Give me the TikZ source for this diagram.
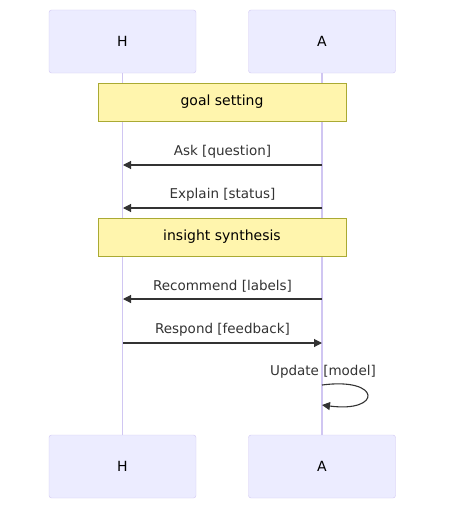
\documentclass[tikz,border=0pt]{standalone}
\usepackage{fontspec}
\setmainfont{DejaVu Sans}
\usepackage{tikz}
\usetikzlibrary{arrows.meta}

\definecolor{actfill}{HTML}{ECECFF}
\definecolor{actline}{HTML}{D0C6F2}
\definecolor{notefill}{HTML}{FFF5AD}
\definecolor{noteline}{HTML}{AAAA33}
\definecolor{msgline}{HTML}{333333}

\tikzset{
  actor/.style={draw=actline,fill=actfill,rounded corners=2.5pt,minimum width=147pt,minimum height=63pt,font=\fontsize{14}{16}\selectfont},
  notebox/.style={draw=noteline,fill=notefill,minimum width=248pt,minimum height=38pt,font=\fontsize{14}{16}\selectfont},
  msg/.style={draw=msgline,line width=1.1pt,-{Triangle[length=8pt,width=8pt]}},
  msgtext/.style={font=\fontsize{13.5}{15}\selectfont,text=msgline,inner sep=0pt}
}

\begin{document}
\begin{tikzpicture}[x=1pt,y=-1pt]
        \useasboundingbox (0,0) rectangle (454,519);
        % actors, top and bottom
        \node[actor] (Htop) at (122.5,41.5) {H};
        \node[actor] (Atop) at (322,41.5) {A};
        \node[actor] (Hbot) at (122.5,466.5) {H};
        \node[actor] (Abot) at (322,466.5) {A};
        \draw[actline,line width=1.3pt] (Htop.south) -- (Hbot.north);
        \draw[actline,line width=1.3pt] (Atop.south) -- (Abot.north);
        % notes
        \node[notebox] (goal) at (222,102) {goal setting};
        \node[notebox] (insight) at (222,237) {insight synthesis};
        % messages
        \foreach \n/\y in {ask/165, expl/208, rec/299, resp/343}{
          \coordinate (h\n) at (123,\y);
          \coordinate (a\n) at (322,\y);}
        \draw[msg] (aask) -- (hask) node[msgtext,midway,above=6pt] {Ask [question]};
        \draw[msg] (aexpl) -- (hexpl) node[msgtext,midway,above=6pt] {Explain [status]};
        \draw[msg] (arec) -- (hrec) node[msgtext,midway,above=6pt] {Recommend [labels]};
        \draw[msg] (hresp) -- (aresp) node[msgtext,midway,above=6pt] {Respond [feedback]};
        % self message
        \coordinate (upd1) at (322,385);
        \coordinate (upd2) at (322,405);
        \node[msgtext] (updtext) at (323,372) {Update [model]};
        \draw[msg] (upd1) .. controls (382,377) and (382,413) .. (upd2);
      \end{tikzpicture}
\end{document}
